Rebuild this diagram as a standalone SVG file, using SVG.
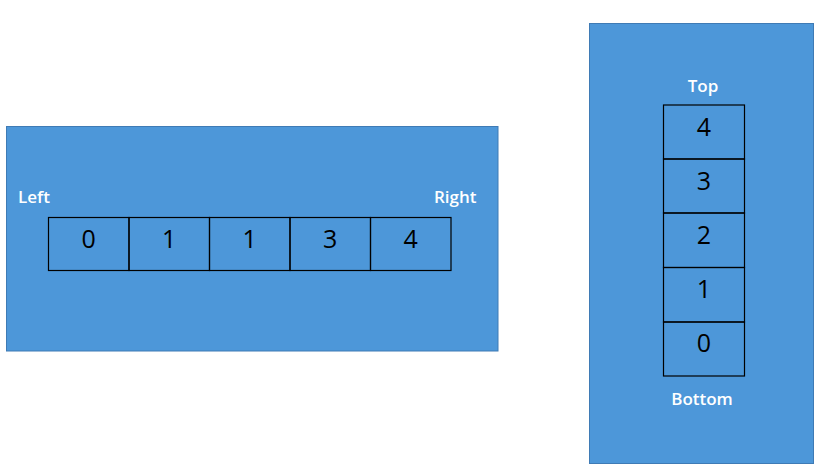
<svg xmlns="http://www.w3.org/2000/svg" width="822" height="475" viewBox="0 0 822 475">
<style>
.panel{fill:#4d97d9;stroke:#3f7bb5;stroke-width:1}
.cell{fill:none;stroke:#000;stroke-width:1.2}
.lbl{font-family:"Open Sans","Liberation Sans",sans-serif;font-size:17px;font-weight:600;fill:#fff}
.num{font-family:"Open Sans","Liberation Sans",sans-serif;font-size:25px;fill:#000;text-anchor:middle}
</style>
<rect width="822" height="475" fill="#fff"/>
<g id="array">
<rect class="panel" x="6.5" y="126.5" width="491.5" height="224.5"/>
<text class="lbl" x="18" y="202.5">Left</text>
<text class="lbl" x="476.5" y="202.5" text-anchor="end">Right</text>
<g id="a0"><rect class="cell" x="48.5" y="217.5" width="80.5" height="53"/><text class="num" x="88.75" y="247.7">0</text></g>
<g id="a1"><rect class="cell" x="129" y="217.5" width="80.5" height="53"/><text class="num" x="169.25" y="247.7">1</text></g>
<g id="a2"><rect class="cell" x="209.5" y="217.5" width="80.5" height="53"/><text class="num" x="249.75" y="247.7">1</text></g>
<g id="a3"><rect class="cell" x="290" y="217.5" width="80.5" height="53"/><text class="num" x="330.25" y="247.7">3</text></g>
<g id="a4"><rect class="cell" x="370.5" y="217.5" width="80.5" height="53"/><text class="num" x="410.75" y="247.7">4</text></g>
</g>
<g id="stack">
<rect class="panel" x="589.5" y="23.5" width="224" height="440"/>
<text class="lbl" x="703" y="92" text-anchor="middle">Top</text>
<text class="lbl" x="702" y="405" text-anchor="middle">Bottom</text>
<g id="s4"><rect class="cell" x="663.5" y="105" width="81" height="54"/><text class="num" x="704" y="135.7">4</text></g>
<g id="s3"><rect class="cell" x="663.5" y="159" width="81" height="54"/><text class="num" x="704" y="189.7">3</text></g>
<g id="s2"><rect class="cell" x="663.5" y="213" width="81" height="54.5"/><text class="num" x="704" y="243.7">2</text></g>
<g id="s1"><rect class="cell" x="663.5" y="267.5" width="81" height="54.5"/><text class="num" x="704" y="298">1</text></g>
<g id="s0"><rect class="cell" x="663.5" y="322" width="81" height="54"/><text class="num" x="704" y="352.3">0</text></g>
</g>
<g id="connectors"/>
</svg>
